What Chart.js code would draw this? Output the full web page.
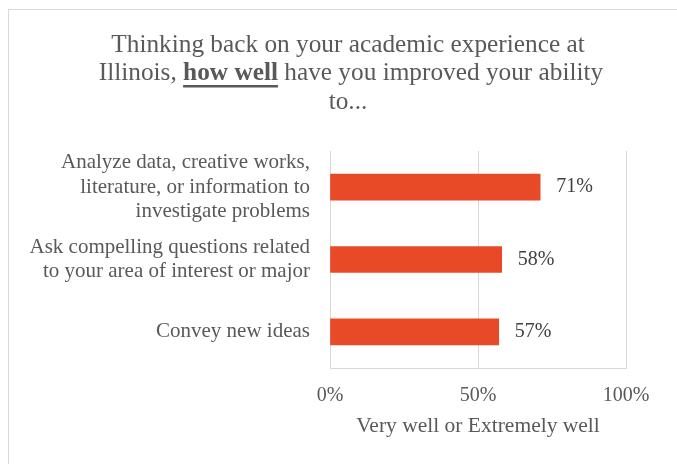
<!DOCTYPE html>
<html>
<head>
<meta charset="utf-8">
<script src="https://cdn.jsdelivr.net/npm/chart.js@4.4.1/dist/chart.umd.min.js"></script>
<style>
  html, body { margin: 0; padding: 0; background: #fff; }
  #wrap { position: relative; width: 677px; height: 464px; }
</style>
</head>
<body>
<div id="wrap"><canvas id="ability-chart" width="677" height="464"></canvas></div>
<script>
// survey items (top to bottom) and share answering "Very well or Extremely well"
const categories = [
    ["Analyze data, creative works,", "literature, or information to", "investigate problems"],
    ["Ask compelling questions related", "to your area of interest or major"],
    ["Convey new ideas"]
];
const values = [71, 58, 57];
const axisTicks = [0, 50, 100];
const axisTitle = "Very well or Extremely well";

const titleLine1 = "Thinking back on your academic experience at";
const titleLine2 = [
    { text: "Illinois, ", bold: false },
    { text: "how well", bold: true },
    { text: " have you improved your ability", bold: false }
];
const titleLine3 = "to...";

const serif = '"Liberation Serif", "Times New Roman", serif';
const textGray = '#595959';
const gridGray = '#d9d9d9';
const barOrange = '#e84a27';

Chart.defaults.font.family = serif;
Chart.defaults.color = textGray;

// light frame around the whole chart
const framePlugin = {
    id: 'frame',
    beforeDraw(chart) {
        let ctx = chart.ctx;
        ctx.save();
        ctx.strokeStyle = gridGray;
        ctx.lineWidth = 1;
        ctx.strokeRect(8.5, 9.5, 720, 520);
        ctx.restore();
    }
};

// three-line title with the bold, underlined "how well"
const titlePlugin = {
    id: 'richTitle',
    afterDraw(chart) {
        let ctx = chart.ctx;
        let cx = 348;
        let size = 25.3;
        ctx.save();
        ctx.fillStyle = textGray;
        ctx.textBaseline = 'middle';
        ctx.textAlign = 'center';
        ctx.font = size + 'px ' + serif;
        ctx.fillText(titleLine1, cx, 45);
        ctx.fillText(titleLine3, cx, 102.5);

        let total = 0;
        titleLine2.forEach(function (part) {
            ctx.font = (part.bold ? 'bold ' : '') + size + 'px ' + serif;
            part.width = ctx.measureText(part.text).width;
            total += part.width;
        });
        let x = cx + 3 - total / 2;
        ctx.textAlign = 'left';
        titleLine2.forEach(function (part) {
            ctx.font = (part.bold ? 'bold ' : '') + size + 'px ' + serif;
            ctx.fillText(part.text, x, 73.5);
            if (part.bold) {
                ctx.fillRect(x, 85, part.width, 2.5);
            }
            x += part.width;
        });
        ctx.restore();
    }
};

// percentage labels to the right of each bar
const valueLabels = {
    id: 'valueLabels',
    afterDatasetsDraw(chart) {
        let ctx = chart.ctx;
        let meta = chart.getDatasetMeta(0);
        ctx.save();
        ctx.font = '20px ' + serif;
        ctx.fillStyle = '#404040';
        ctx.textAlign = 'left';
        ctx.textBaseline = 'middle';
        meta.data.forEach(function (bar, i) {
            ctx.fillText(values[i] + '%', bar.x + 16, bar.y);
        });
        ctx.restore();
    }
};

new Chart(document.getElementById("ability-chart"), {
    type: 'bar',
    data: {
        labels: categories,
        datasets: [{
            label: axisTitle,
            data: values,
            backgroundColor: barOrange,
            borderWidth: 0,
            barThickness: 26
        }]
    },
    options: {
        indexAxis: 'y',
        responsive: false,
        animation: false,
        layout: {
            padding: { top: 151, right: 51, bottom: 21, left: 0 }
        },
        plugins: {
            legend: { display: false },
            title: { display: false },
            tooltip: { enabled: false }
        },
        scales: {
            x: {
                min: 0,
                max: 100,
                afterBuildTicks: function (scale) {
                    scale.ticks = axisTicks.map(function (v) { return { value: v }; });
                },
                afterFit: function (scale) {
                    scale.height = 75;
                },
                ticks: {
                    padding: 16,
                    font: { size: 20, lineHeight: 1.2 },
                    color: textGray,
                    callback: function (v) { return v + '%'; }
                },
                grid: {
                    color: gridGray,
                    lineWidth: 1,
                    drawTicks: false
                },
                border: { display: true, color: gridGray, width: 1 },
                title: {
                    display: true,
                    text: axisTitle,
                    font: { size: 21.5, lineHeight: 1.2 },
                    color: textGray,
                    padding: { top: 6, bottom: 4 }
                }
            },
            y: {
                afterFit: function (scale) {
                    scale.width = 330;
                    scale.paddingTop = 0;
                    scale.paddingBottom = 0;
                },
                ticks: {
                    autoSkip: false,
                    padding: 12,
                    font: { size: 21, lineHeight: 1.17 },
                    color: textGray
                },
                grid: { display: false },
                border: { display: false }
            }
        }
    },
    plugins: [framePlugin, titlePlugin, valueLabels]
});
</script>
</body>
</html>
